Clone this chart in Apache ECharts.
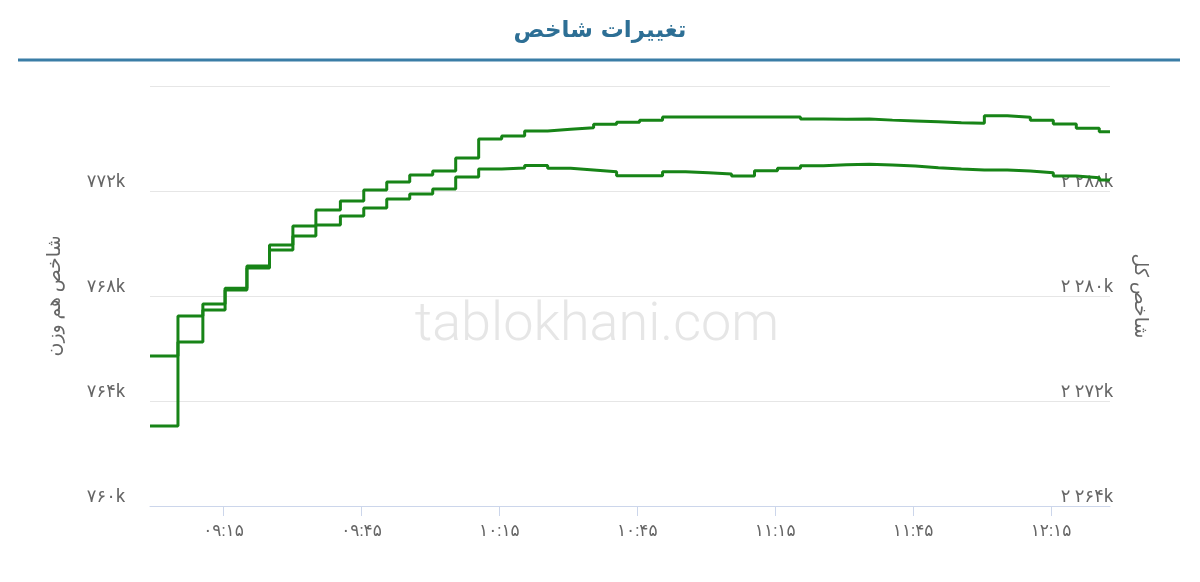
<!DOCTYPE html>
<html>
<head>
<meta charset="utf-8">
<script src="https://cdn.jsdelivr.net/npm/echarts@6/dist/echarts.min.js"></script>
<style>
html,body{margin:0;padding:0;background:#ffffff;}
#c{width:1200px;height:582px;}
</style>
</head>
<body>
<div id="c"></div>
<script>
const titleText = 'تغییرات شاخص';
const leftAxisName = 'شاخص هم وزن';
const rightAxisName = 'شاخص کل';
const watermarkText = 'tablokhani.com';

const times = [
  '08:59:00','09:05:05','09:10:30','09:15:20','09:20:05','09:25:00','09:30:05','09:35:05','09:40:25',
  '09:45:30','09:50:30','09:55:30','10:00:30','10:05:30','10:10:30','10:15:30','10:20:30',
  '10:25:30','10:30:30','10:35:30','10:40:30','10:45:30','10:50:30','10:55:30','11:00:30',
  '11:05:30','11:10:30','11:15:30','11:20:30','11:25:30','11:30:30','11:35:30','11:40:30',
  '11:45:30','11:50:30','11:55:30','12:00:30','12:05:30','12:10:30','12:15:30','12:20:30',
  '12:25:30','12:27:50'
];

const equalWeightIndex = [
  763050, 767240, 767700, 768300, 769140, 769940, 770670, 771280, 771620,
  772040, 772340, 772610, 772760, 773260, 773980, 774100, 774290,
  774350, 774410, 774540, 774620, 774700, 774820, 774820, 774820,
  774820, 774820, 774820, 774740, 774730, 774740, 774700, 774670,
  774640, 774600, 774580, 774870, 774810, 774700, 774550, 774390,
  774260, 774260
];

const totalIndex = [
  2275430, 2276500, 2278930, 2280460, 2282130, 2283500, 2284570, 2285410, 2286100,
  2286700, 2287390, 2287770, 2288150, 2289070, 2289680, 2289750, 2289940,
  2289730, 2289600, 2289470, 2289170, 2289170, 2289470, 2289390, 2289300,
  2289140, 2289550, 2289730, 2289930, 2290000, 2290030, 2289980, 2289900,
  2289780, 2289680, 2289600, 2289600, 2289520, 2289390, 2289140, 2289010,
  2288840, 2288840
];

const xTickTimes = ['09:15','09:45','10:15','10:45','11:15','11:45','12:15'];
const xRange = ['08:59:00','12:27:50'];
const leftRange = [760000, 776000];
const leftStep = 4000;
const rightRange = [2264000, 2296000];
const rightStep = 8000;

function toMin(s){ const p = s.split(':').map(Number); return p[0]*60 + p[1] + (p[2]||0)/60; }
const FA = '۰۱۲۳۴۵۶۷۸۹';
function fa(s){ return String(s).replace(/[0-9]/g, d => FA[+d]); }
function minToLabel(m){
  const h = Math.floor(m/60), mm = Math.round(m - h*60);
  return fa(String(h).padStart(2,'0') + ':' + String(mm).padStart(2,'0'));
}
function groupK(v){
  const k = Math.round(v/1000);
  return fa(String(k).replace(/\B(?=(\d{3})+(?!\d))/g, ' ')) + 'k';
}

const FONT = "Roboto, 'DejaVu Sans', sans-serif";
const LABEL_COLOR = '#666666';
const LINE_COLOR = '#178417';

const chart = echarts.init(document.getElementById('c'), null, {renderer:'canvas'});
chart.setOption({
  animation: false,
  backgroundColor: '#ffffff',
  grid: { left: 150, right: 90, top: 86, bottom: 76, containLabel: false },
  xAxis: {
    type: 'value',
    min: toMin(xRange[0]),
    max: toMin(xRange[1]),
    splitLine: { show: false },
    axisLine: { show: true, lineStyle: { color: '#ccd6eb', width: 1 } },
    axisTick: { show: true, length: 10, lineStyle: { color: '#ccd6eb' }, customValues: xTickTimes.map(toMin) },
    axisLabel: {
      color: LABEL_COLOR, fontSize: 17, fontFamily: FONT, margin: 17,
      customValues: xTickTimes.map(toMin),
      formatter: v => minToLabel(v)
    }
  },
  yAxis: [
    {
      type: 'value', position: 'left',
      min: leftRange[0], max: leftRange[1], interval: leftStep,
      name: leftAxisName, nameLocation: 'middle', nameGap: 85, nameRotate: 90,
      nameTextStyle: { color: LABEL_COLOR, fontSize: 19, fontFamily: FONT },
      axisLine: { show: false }, axisTick: { show: false },
      splitLine: { show: true, lineStyle: { color: '#e6e6e6', width: 1 } },
      axisLabel: {
        color: LABEL_COLOR, fontSize: 18, fontFamily: FONT, margin: 25,
        verticalAlign: 'bottom', showMaxLabel: false,
        formatter: v => v >= leftRange[1] ? '' : fa(Math.round(v/1000)) + 'k'
      }
    },
    {
      type: 'value', position: 'right',
      min: rightRange[0], max: rightRange[1], interval: rightStep,
      name: rightAxisName, nameLocation: 'middle', nameGap: 20, nameRotate: -90,
      nameTextStyle: { color: LABEL_COLOR, fontSize: 19, fontFamily: FONT },
      axisLine: { show: false }, axisTick: { show: false },
      splitLine: { show: false },
      axisLabel: {
        inside: true, color: LABEL_COLOR, fontSize: 18, fontFamily: FONT, margin: -3,
        verticalAlign: 'bottom', showMaxLabel: false,
        formatter: v => v >= rightRange[1] ? '' : groupK(v)
      }
    }
  ],
  graphic: [
    { type: 'text', left: 'center', top: 20,
      style: { text: titleText, font: "bold 23px 'DejaVu Sans', sans-serif", fill: '#2d6f95' } },
    { type: 'line', shape: { x1: 18, y1: 60, x2: 1180, y2: 60 },
      style: { stroke: '#3a7da6', lineWidth: 3 } },
    { type: 'text', x: 597, y: 326, z: -10, silent: true,
      style: { text: watermarkText, font: "300 54px Roboto, sans-serif", fill: '#e6e6e6',
               align: 'center', verticalAlign: 'middle' } }
  ],
  series: [
    {
      name: leftAxisName, type: 'line', step: 'end', yAxisIndex: 0,
      data: times.map((t, i) => [toMin(t), equalWeightIndex[i]]),
      showSymbol: false, symbol: 'none',
      lineStyle: { color: LINE_COLOR, width: 3 }, itemStyle: { color: LINE_COLOR }
    },
    {
      name: rightAxisName, type: 'line', step: 'end', yAxisIndex: 1,
      data: times.map((t, i) => [toMin(t), totalIndex[i]]),
      showSymbol: false, symbol: 'none',
      lineStyle: { color: LINE_COLOR, width: 3 }, itemStyle: { color: LINE_COLOR }
    }
  ]
});
</script>
</body>
</html>
